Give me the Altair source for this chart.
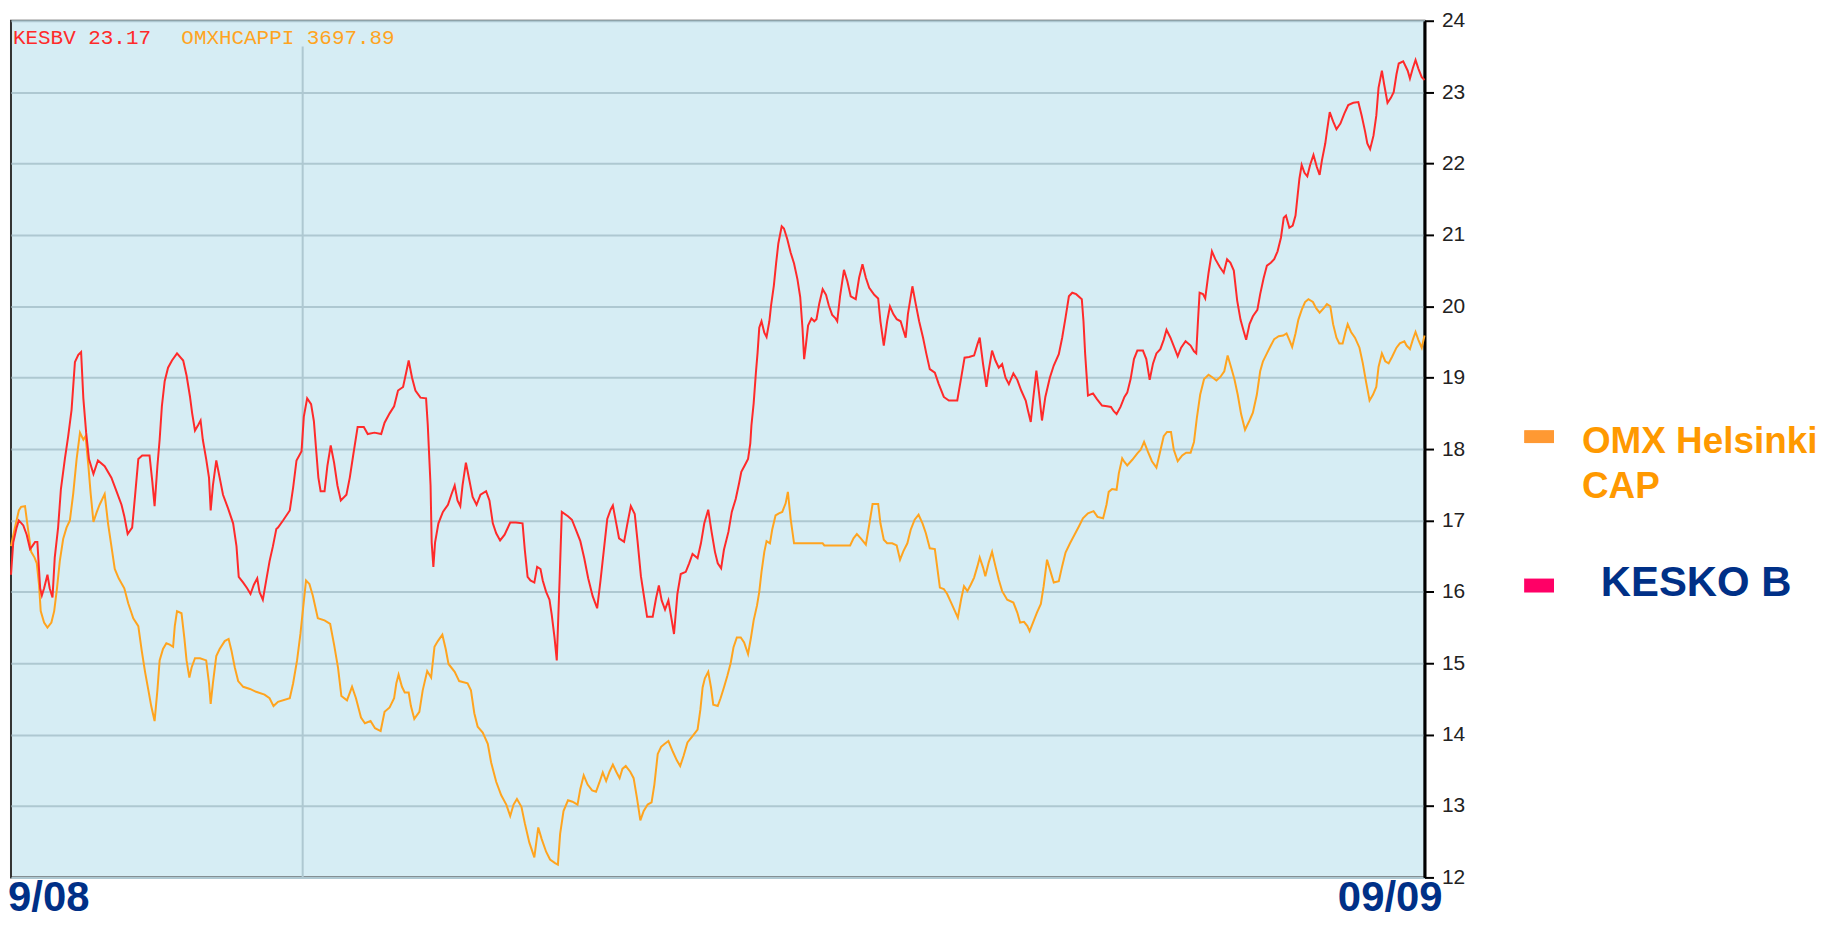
import altair as alt
import pandas as pd

# ---------------- data (trading-day index 0..252, price on the shared EUR axis) -------------
kesko_day = [0.0, 0.4, 1.0, 1.4, 2.2, 2.8, 3.4, 3.8, 4.3, 4.7, 5.2, 5.5, 5.9, 6.5, 6.9, 7.4, 7.8, 8.4, 8.9, 9.6,
             10.2, 10.8, 11.4, 12.0, 12.5, 12.9, 13.4, 13.9, 14.7, 15.5, 16.7, 17.9, 18.8, 19.7, 20.2, 20.8, 21.6,
             22.1, 22.7, 23.4, 24.7, 25.2, 25.6, 26.1, 26.5, 26.9, 27.4, 28.0, 28.7, 29.6, 30.7, 31.3, 31.9, 32.3,
             32.8, 33.4, 33.8, 34.2, 34.8, 35.3, 35.6, 36.0, 36.6, 37.2, 37.8, 38.7, 39.6, 40.2, 40.6, 41.4, 42.1,
             42.7, 43.3, 43.9, 44.3, 44.9, 45.5, 46.1, 46.7, 47.3,
             47.6, 48.5, 49.7, 50.3, 50.9, 51.8, 52.2, 52.8, 53.5, 54.0, 54.4, 54.8, 55.2, 55.9, 56.4, 57.0, 57.6,
             58.2, 58.8, 59.8, 60.4, 61.0, 61.8, 62.9, 63.6, 64.8, 66.0, 66.6, 67.5, 68.3, 69.0, 69.9, 70.5, 70.9,
             71.5, 72.1, 73.0, 74.0, 74.3, 74.8, 75.0, 75.3, 75.6, 76.2, 77.0, 77.9, 78.5, 79.1, 79.6, 80.1, 80.5,
             81.1, 81.7, 82.3, 83.0, 83.7, 84.7, 85.3, 85.9, 86.5, 87.2, 88.0, 89.0, 90.0, 91.2, 91.6, 92.1, 92.6,
             93.3, 93.8, 94.4, 94.8, 95.4, 96.0, 96.4, 96.9, 97.3,
             97.8, 98.2, 99.3, 100.0, 100.7, 101.5, 102.2, 102.9, 103.7, 104.5, 105.1, 105.7, 106.3, 106.9, 107.3,
             107.9, 108.4, 109.3, 109.9, 110.5, 111.2, 111.7, 112.3, 112.9, 113.4, 114.4, 115.0, 115.5, 116.0,
             116.6, 117.2, 117.8, 118.2, 118.8, 119.4, 120.3, 120.9, 121.5, 122.4, 123.0, 123.6, 124.3, 124.9,
             125.5, 126.0, 126.6, 127.1, 127.9, 128.5, 129.2, 129.8, 130.2, 130.8, 131.4, 131.8, 132.0, 132.4,
             132.8, 133.1, 133.4, 133.8, 134.3, 134.7, 135.2, 135.5, 136.0, 136.4, 136.8, 137.4, 137.8, 138.4,
             139.0, 139.6, 140.2, 140.7, 141.1, 141.4, 141.7, 142.1, 142.7, 143.2, 143.6, 144.1, 144.7, 145.3,
             145.8, 146.4, 147.0,
             147.3, 147.8, 148.5, 149.1, 149.7, 150.6, 151.2, 151.8, 152.4, 153.0, 153.9, 154.6, 155.0, 155.6,
             156.2, 156.7, 157.3, 157.9, 158.6, 159.5, 159.9, 160.7, 161.3, 161.9, 162.6, 163.2, 163.8, 164.7,
             165.4, 166.3, 167.2, 168.7, 169.4, 170.0, 170.8, 171.7, 172.3, 172.7, 173.3, 173.9, 174.3, 174.9,
             175.5, 176.1, 176.7, 177.3, 177.9, 178.7, 179.4, 180.1, 180.9, 181.3, 181.8, 182.2, 182.8, 183.3,
             183.8, 184.4, 185.2, 185.9, 186.8, 187.4, 188.0, 188.6, 189.2, 189.9, 190.9, 191.2, 191.5, 192.0,
             192.9, 193.6, 194.5, 195.4, 196.1, 196.6, 197.1, 197.8, 198.5,
             199.0, 199.6, 200.2, 200.8, 201.8, 202.4, 203.0, 203.6, 204.2, 204.9, 205.5, 206.0, 206.7, 207.4,
             208.0, 208.6, 209.4, 210.3, 210.9, 211.3, 211.6, 211.9, 212.5, 212.9, 213.5, 214.1, 214.7, 215.5,
             216.2, 216.8, 217.4, 218.0, 218.6, 219.2, 219.8, 220.2, 220.8, 221.4, 222.2, 222.7, 223.3, 223.9,
             224.6, 225.2, 225.8, 226.4, 226.9, 227.3, 227.9, 228.5, 229.0, 229.4, 229.7, 230.1, 230.6, 231.1,
             231.6, 232.2, 232.8, 233.3, 233.7, 234.3, 234.6, 235.1, 235.7, 236.3, 237.0, 237.7, 238.4, 239.3,
             240.2, 240.8, 241.4, 241.8, 242.3, 242.9, 243.4, 243.8, 244.4, 244.8, 245.4, 246.0, 246.5, 247.0,
             247.4, 248.2, 249.0, 249.4, 249.9, 250.4, 250.9, 251.5, 252.0]
kesko_price = [16.24, 16.69, 16.9, 17.0, 16.93, 16.8, 16.6, 16.64, 16.7, 16.7, 16.05, 15.95, 16.05, 16.24, 16.05,
               15.92, 16.48, 16.9, 17.44, 17.86, 18.18, 18.55, 19.22, 19.32, 19.36, 18.71, 18.23, 17.86, 17.65,
               17.84, 17.76, 17.6, 17.41, 17.22, 17.06, 16.81, 16.9, 17.33, 17.86, 17.91, 17.91, 17.54, 17.2,
               17.76, 18.13, 18.6, 18.95, 19.14, 19.24, 19.34, 19.24, 19.03, 18.74, 18.5, 18.26, 18.34, 18.4,
               18.13, 17.86, 17.6, 17.14, 17.49, 17.84, 17.6, 17.36, 17.17, 16.96, 16.64, 16.21, 16.13, 16.05,
               15.97, 16.1, 16.19, 16.0, 15.89, 16.16, 16.43, 16.64, 16.88,
               16.9, 17.0, 17.14, 17.46, 17.84, 17.97, 18.45, 18.71, 18.63, 18.39, 17.99, 17.6, 17.41, 17.41,
               17.76, 18.05, 17.81, 17.49, 17.28, 17.36, 17.6, 17.91, 18.31, 18.31, 18.21, 18.23, 18.21, 18.37,
               18.5, 18.6, 18.82, 18.87, 19.09, 19.24, 19.0, 18.82, 18.72, 18.71, 18.34, 17.49, 16.69, 16.35,
               16.69, 16.96, 17.12, 17.22, 17.36, 17.49, 17.28, 17.2, 17.49, 17.81, 17.57, 17.33, 17.22, 17.36,
               17.41, 17.28, 16.96, 16.82, 16.72, 16.8, 16.97, 16.97, 16.96, 16.59, 16.21, 16.16, 16.13, 16.35,
               16.32, 16.16, 16.0, 15.89, 15.68, 15.36, 15.04,
               16.16, 17.12, 17.06, 17.01, 16.87, 16.71, 16.47, 16.19, 15.94, 15.77, 16.16, 16.59, 17.02, 17.15,
               17.21, 16.96, 16.75, 16.7, 16.96, 17.2, 17.09, 16.71, 16.22, 15.91, 15.65, 15.65, 15.91, 16.09,
               15.88, 15.75, 15.88, 15.6, 15.41, 15.97, 16.25, 16.28, 16.4, 16.53, 16.47, 16.68, 16.96, 17.15,
               16.84, 16.56, 16.4, 16.33, 16.59, 16.84, 17.12, 17.3, 17.52, 17.68, 17.77, 17.86, 18.08, 18.33,
               18.64, 19.07, 19.35, 19.7, 19.79, 19.63, 19.57, 19.79, 20.01, 20.29, 20.6, 20.88, 21.12, 21.09,
               20.94, 20.75, 20.6, 20.38, 20.13, 19.7, 19.26, 19.45, 19.73, 19.83, 19.79, 19.82, 20.04, 20.24,
               20.16, 20.01, 19.88, 19.83,
               19.79, 20.14, 20.51, 20.35, 20.14, 20.1, 20.4, 20.59, 20.4, 20.26, 20.16, 20.11, 19.79, 19.45,
               19.79, 20.0, 19.89, 19.82, 19.79, 19.56, 19.89, 20.28, 20.03, 19.79, 19.56, 19.33, 19.12, 19.07,
               18.91, 18.73, 18.68, 18.68, 19.0, 19.28, 19.29, 19.31, 19.47, 19.56, 19.19, 18.87, 19.1, 19.38,
               19.24, 19.14, 19.19, 19.0, 18.91, 19.06, 18.97, 18.82, 18.68, 18.54, 18.38, 18.68, 19.1, 18.77,
               18.4, 18.73, 19.0, 19.17, 19.33, 19.56, 19.84, 20.14, 20.19, 20.17, 20.1, 19.79, 19.33, 18.75,
               18.78, 18.7, 18.61, 18.6, 18.59, 18.53, 18.49, 18.59, 18.73,
               18.79, 18.98, 19.26, 19.38, 19.38, 19.26, 18.97, 19.2, 19.34, 19.4, 19.53, 19.67, 19.56, 19.42,
               19.3, 19.42, 19.51, 19.45, 19.37, 19.34, 19.78, 20.19, 20.17, 20.11, 20.47, 20.77, 20.66, 20.55,
               20.47, 20.66, 20.61, 20.5, 20.08, 19.81, 19.64, 19.53, 19.75, 19.86, 19.95, 20.17, 20.39, 20.57,
               20.61, 20.66, 20.77, 20.96, 21.24, 21.27, 21.1, 21.13, 21.27, 21.57, 21.79, 21.98, 21.87, 21.82,
               21.98, 22.12, 21.95, 21.84, 22.04, 22.28, 22.45, 22.72, 22.59, 22.48, 22.56, 22.7, 22.82, 22.85,
               22.86, 22.67, 22.45, 22.28, 22.2, 22.39, 22.67, 23.06, 23.3, 23.11, 22.85, 22.92, 23.0, 23.25,
               23.4, 23.43, 23.3, 23.19, 23.33, 23.45, 23.33, 23.21, 23.17]

omx_day = [0.0, 0.7, 1.4, 1.8, 2.5, 3.0, 3.6, 4.2, 4.6, 5.0, 5.3, 5.9, 6.5, 7.2, 7.7, 8.2, 8.7, 9.3, 9.9, 10.5,
           11.1, 11.7, 12.3, 12.9, 13.3, 13.8, 14.2, 14.7, 15.3, 15.8, 16.7, 17.3, 17.9, 18.5, 19.2, 20.2, 20.9,
           21.8, 22.7, 23.3, 23.9, 24.5, 25.0, 25.6, 26.1, 26.5, 27.1, 27.7, 28.3, 28.9, 29.2, 29.6, 30.4, 30.9,
           31.3, 31.8, 32.2, 32.8, 33.7, 34.8, 35.3, 35.6, 36.0, 36.6, 37.2, 38.1, 38.8, 39.3, 39.9, 40.5, 41.4,
           42.6, 43.7, 45.2, 46.1, 46.8,
           47.6, 49.7, 50.3, 51.0, 51.6, 52.1, 52.6, 53.2, 53.8, 54.7, 55.9, 56.9, 57.6, 58.3, 58.9, 59.9, 60.8,
           61.5, 62.4, 63.1, 64.1, 64.9, 65.9, 66.6, 67.5, 68.3, 68.7, 69.1, 69.7, 70.2, 70.9, 71.3, 71.9, 72.8,
           73.4, 74.2, 74.9, 75.5, 76.1, 76.9, 77.5, 78.0, 79.1, 79.9, 81.4, 82.0, 82.6, 83.2, 84.1, 85.0, 85.6,
           86.5, 87.4, 88.3, 89.0, 89.6, 90.2, 91.0, 91.6, 92.4, 93.3, 94.0, 94.6, 95.4, 96.1, 97.0,
           97.5, 97.9, 98.5, 99.3, 100.1, 101.0, 101.5, 102.1, 102.8, 103.6, 104.3, 104.9, 105.5, 106.1, 106.7,
           107.3, 107.9, 108.5, 109.0, 109.6, 110.4, 111.0, 111.6, 112.2, 112.8, 113.5, 114.2, 114.7, 115.3,
           115.9, 116.5, 117.2, 118.0, 118.7, 119.3, 119.9, 120.6, 121.5, 122.4, 122.9, 123.3, 123.7, 124.3,
           124.8, 125.2, 126.0, 126.5, 127.1, 127.7, 128.3, 128.8, 129.4, 130.1, 130.7, 131.4, 131.9, 132.4,
           133.0, 133.4, 133.8, 134.3, 134.7, 135.3, 135.7, 136.3, 136.9, 137.5, 138.1, 138.5, 139.0, 139.6,
           141.4, 144.7, 145.0,
           147.3, 149.6, 150.2, 150.8, 151.5, 152.4, 153.0, 153.6, 154.6, 155.0, 155.6, 156.2, 157.1, 157.9,
           158.5, 159.1, 159.8, 160.4, 161.1, 161.8, 162.5, 163.1, 163.8, 164.7, 165.1, 165.6, 166.3, 166.9,
           167.6, 168.4, 168.8, 169.4, 169.9, 170.5, 171.1, 171.7, 172.3, 172.7, 173.3, 173.7, 174.3, 174.9,
           175.5, 176.1, 176.7, 177.6, 178.7, 179.4, 179.9, 180.6, 181.2, 181.6, 182.2, 182.9, 183.6, 184.1,
           184.7, 185.3, 185.9, 186.8, 187.4, 188.0, 188.8, 189.6, 190.4, 191.1, 192.0, 193.0, 193.7, 194.7,
           195.3, 195.7, 196.3, 197.1, 197.5, 198.1, 198.5,
           199.0, 199.9, 200.8, 201.4, 202.0, 202.7, 203.4, 204.2, 204.8, 205.5, 206.1, 206.8, 207.3, 208.0,
           208.8, 209.5, 210.3, 210.9, 211.4, 212.0, 212.7, 213.5, 214.1, 214.9, 215.6, 216.3, 216.9, 217.5,
           218.1, 218.7, 219.3, 220.0, 220.8, 221.4, 222.1, 222.7, 223.2, 223.9, 224.6, 225.2, 226.0, 226.8,
           227.4, 228.0, 228.4, 229.0, 229.5, 230.1, 230.7, 231.3, 232.1, 232.7, 233.3, 234.0, 234.6, 235.2,
           235.7, 236.3, 236.8, 237.4, 237.9, 238.3, 238.9, 239.6, 240.4, 241.0, 241.6, 242.2, 242.8, 243.4,
           243.8, 244.4, 245.0, 245.6, 246.2, 247.0, 247.6, 248.4, 248.8, 249.4, 249.9, 250.4, 250.9, 251.5,
           252.0]
omx_level = [16.64, 16.9, 17.14, 17.19, 17.2, 16.9, 16.56, 16.48, 16.4, 16.1, 15.73, 15.57, 15.5, 15.57, 15.73,
             16.05, 16.43, 16.74, 16.9, 17.0, 17.38, 17.86, 18.23, 18.13, 18.18, 17.76, 17.38, 16.98, 17.12,
             17.22, 17.37, 16.96, 16.64, 16.32, 16.19, 16.05, 15.84, 15.63, 15.52, 15.18, 14.88, 14.62, 14.4,
             14.19, 14.62, 15.04, 15.2, 15.28, 15.26, 15.23, 15.52, 15.73, 15.7, 15.36, 15.04, 14.8, 14.94,
             15.07, 15.07, 15.04, 14.72, 14.43, 14.72, 15.1, 15.2, 15.31, 15.34, 15.18, 14.94, 14.75, 14.67,
             14.64, 14.6, 14.56, 14.51, 14.4,
             14.46, 14.51, 14.72, 15.04, 15.41, 15.79, 16.16, 16.11, 15.95, 15.63, 15.6, 15.55, 15.26, 14.94,
             14.54, 14.48, 14.67, 14.51, 14.24, 14.16, 14.19, 14.09, 14.05, 14.32, 14.38, 14.51, 14.72, 14.84,
             14.67, 14.59, 14.59, 14.4, 14.22, 14.32, 14.62, 14.89, 14.8, 15.23, 15.31, 15.4, 15.2, 14.99,
             14.88, 14.75, 14.72, 14.62, 14.3, 14.11, 14.03, 13.87, 13.61, 13.34, 13.15, 13.02, 12.86, 13.02,
             13.1, 12.99, 12.76, 12.49, 12.28, 12.7, 12.54, 12.36, 12.25, 12.2,
             12.18, 12.61, 12.93, 13.08, 13.06, 13.02, 13.24, 13.43, 13.3, 13.22, 13.2, 13.33, 13.47, 13.35,
             13.48, 13.58, 13.48, 13.39, 13.52, 13.56, 13.48, 13.39, 13.11, 12.8, 12.93, 13.02, 13.05, 13.3,
             13.73, 13.83, 13.87, 13.91, 13.76, 13.64, 13.56, 13.7, 13.89, 13.98, 14.07, 14.35, 14.66, 14.79,
             14.88, 14.66, 14.42, 14.4, 14.51, 14.66, 14.82, 15.0, 15.22, 15.36, 15.36, 15.29, 15.13, 15.35,
             15.6, 15.81, 16.0, 16.28, 16.56, 16.71, 16.68, 16.87, 17.07, 17.1, 17.12, 17.24, 17.4, 17.02,
             16.68, 16.68, 16.68, 16.65,
             16.65, 16.65, 16.75, 16.81, 16.75, 16.66, 16.94, 17.23, 17.23, 16.96, 16.73, 16.68, 16.68, 16.65,
             16.45, 16.57, 16.68, 16.87, 17.01, 17.08, 16.96, 16.82, 16.61, 16.6, 16.36, 16.06, 16.04, 15.97,
             15.85, 15.71, 15.64, 15.9, 16.08, 16.01, 16.1, 16.2, 16.36, 16.48, 16.34, 16.22, 16.41, 16.56,
             16.36, 16.17, 16.01, 15.89, 15.85, 15.71, 15.57, 15.58, 15.52, 15.45, 15.57, 15.71, 15.83, 16.08,
             16.45, 16.29, 16.13, 16.15, 16.36, 16.55, 16.68, 16.8, 16.92, 17.03, 17.1, 17.13, 17.05, 17.03,
             17.22, 17.4, 17.44, 17.43, 17.66, 17.87, 17.82,
             17.77, 17.85, 17.94, 17.99, 18.1, 17.96, 17.83, 17.74, 17.94, 18.18, 18.24, 18.24, 17.99, 17.83,
             17.91, 17.95, 17.95, 18.1, 18.43, 18.76, 18.98, 19.04, 19.01, 18.96, 19.01, 19.09, 19.31, 19.15,
             18.98, 18.76, 18.49, 18.27, 18.4, 18.51, 18.76, 19.09, 19.23, 19.34, 19.45, 19.54, 19.58, 19.59,
             19.62, 19.51, 19.43, 19.62, 19.81, 19.95, 20.06, 20.1, 20.06, 19.97, 19.91, 19.97, 20.03, 20.0,
             19.75, 19.56, 19.48, 19.48, 19.64, 19.75, 19.64, 19.56, 19.42, 19.2, 18.93, 18.68, 18.76, 18.87,
             19.15, 19.34, 19.23, 19.2, 19.29, 19.42, 19.48, 19.51, 19.45, 19.4, 19.53, 19.64, 19.53, 19.42,
             19.59]

y_ticks = list(range(12, 25))
vgrid_days = [52]
header_texts = ["KESBV 23.17", "OMXHCAPPI 3697.89"]
legend_labels = ["OMX Helsinki", "CAP", "KESKO B"]
date_labels = ["9/08", "09/09"]

# ---------------- styling -------------
W, H = 1419, 860
PAD_TOP, PAD_BOTTOM = 11, 45
BG = "#D6EDF4"
GRID = "#AEC8D1"
RED = "#FF2A2A"
ORANGE = "#FFA41F"
NAVY = "#003087"
LEG_ORANGE = "#FF9933"
LEG_PINK = "#FF0066"
TXT_ORANGE = "#FF9900"

kesko = pd.DataFrame({"day": kesko_day, "value": kesko_price})
omx = pd.DataFrame({"day": omx_day, "value": omx_level})

x_scale = alt.Scale(domain=[0, 252], nice=False, zero=False)
y_scale = alt.Scale(domain=[12, 24], nice=False, zero=False)

y_axis = alt.Axis(
    orient="right", values=y_ticks, title=None, format="d",
    grid=True, gridColor=GRID, gridWidth=2,
    domainColor="black", domainWidth=3,
    tickColor="black", tickWidth=2, tickSize=9,
    labelPadding=8, labelFont="Liberation Sans", labelFontSize=21, labelColor="#222222",
)

vgrid = alt.Chart(pd.DataFrame({"day": vgrid_days})).mark_rule(color=GRID, strokeWidth=2).encode(
    x=alt.X("day:Q", scale=x_scale, axis=None),
    y=alt.value(26), y2=alt.value(H),
)

omx_line = alt.Chart(omx).mark_line(color=ORANGE, strokeWidth=2).encode(
    x=alt.X("day:Q", scale=x_scale, axis=None),
    y=alt.Y("value:Q", scale=y_scale, axis=y_axis),
)
kesko_line = alt.Chart(kesko).mark_line(color=RED, strokeWidth=2).encode(
    x=alt.X("day:Q", scale=x_scale, axis=None),
    y=alt.Y("value:Q", scale=y_scale, axis=y_axis),
)


def label(text, x, y, color, size, font="Liberation Sans", weight="bold"):
    return alt.Chart(pd.DataFrame({"t": [text]})).mark_text(
        font=font, fontSize=size, fontWeight=weight, color=color,
        align="left", baseline="alphabetic",
    ).encode(text="t:N", x=alt.value(x), y=alt.value(y))


def swatch(x, x2, y, y2, color):
    return alt.Chart(pd.DataFrame({"k": [0]})).mark_rect(color=color).encode(
        x=alt.value(x), x2=alt.value(x2), y=alt.value(y), y2=alt.value(y2)
    )


layers = [
    vgrid, omx_line, kesko_line,
    label(header_texts[0], 2, 23, RED, 21, font="Liberation Mono", weight="normal"),
    label(header_texts[1], 171, 23, ORANGE, 21, font="Liberation Mono", weight="normal"),
    swatch(1519, 1549, 411, 424, LEG_ORANGE),
    label(legend_labels[0], 1577, 434, TXT_ORANGE, 37),
    label(legend_labels[1], 1577, 479, TXT_ORANGE, 37),
    swatch(1519, 1549, 560, 574, LEG_PINK),
    label(legend_labels[2], 1596, 578, NAVY, 42),
    label(date_labels[0], -3, 894, NAVY, 42),
    label(date_labels[1], 1332, 894, NAVY, 42),
]

chart = alt.layer(*layers).properties(
    width=W, height=H,
    autosize=alt.AutoSizeParams(type="none"),
    padding={"left": 3, "top": PAD_TOP, "right": 398, "bottom": PAD_BOTTOM},
    background="white",
).configure_view(fill=BG, stroke="#333333", strokeWidth=2)

chart.save("out.html", embed_options={"renderer": "svg", "actions": False})
